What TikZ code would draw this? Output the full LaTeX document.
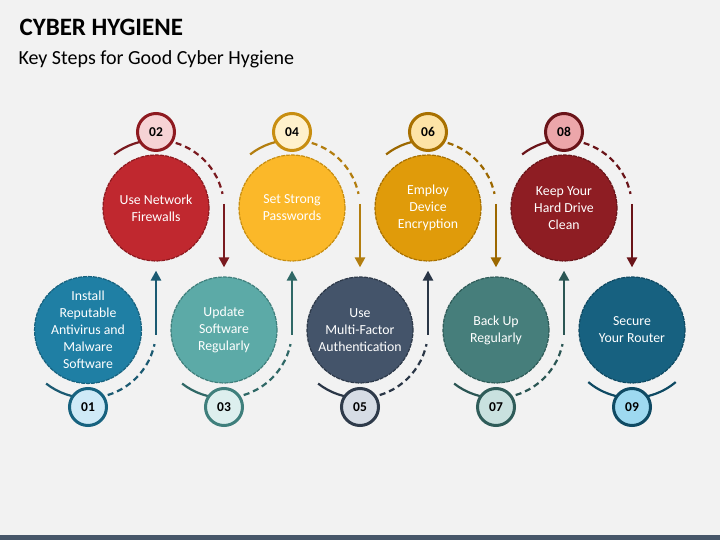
\documentclass[tikz,border=0pt]{standalone}
\usepackage{fontspec}
\setmainfont{Carlito}
\usetikzlibrary{arrows.meta}
\definecolor{bg}{HTML}{F2F2F2}
\definecolor{bar}{HTML}{475669}
\definecolor{fa}{HTML}{1F7FA4}\definecolor{da}{HTML}{17627F}\definecolor{aa}{HTML}{1B5A72}\definecolor{na}{HTML}{CFEAF7}
\definecolor{fb}{HTML}{C0282F}\definecolor{db}{HTML}{8E1A20}\definecolor{ab}{HTML}{7A1A1F}\definecolor{nb}{HTML}{F6D3D5}
\definecolor{fc}{HTML}{5CAAA7}\definecolor{dc}{HTML}{3F7F7C}\definecolor{ac}{HTML}{2F6866}\definecolor{nc}{HTML}{DDEFEE}
\definecolor{fd}{HTML}{FBB829}\definecolor{dd}{HTML}{C88E10}\definecolor{ad}{HTML}{B37E0F}\definecolor{nd}{HTML}{FFF1CC}
\definecolor{fe}{HTML}{44546A}\definecolor{de}{HTML}{2E3A4A}\definecolor{ae}{HTML}{2A3646}\definecolor{ne}{HTML}{D6DCE5}
\definecolor{ff}{HTML}{E09B0A}\definecolor{df}{HTML}{A87000}\definecolor{af}{HTML}{9C6800}\definecolor{nf}{HTML}{FDE3A6}
\definecolor{fg}{HTML}{467E7B}\definecolor{dg}{HTML}{2F5C59}\definecolor{ag}{HTML}{2B5654}\definecolor{ng}{HTML}{C9E1DF}
\definecolor{fh}{HTML}{8E1D23}\definecolor{dh}{HTML}{6A1419}\definecolor{ah}{HTML}{6A1419}\definecolor{nh}{HTML}{ECA6AA}
\definecolor{fi}{HTML}{176180}\definecolor{di}{HTML}{0F4A63}\definecolor{ai}{HTML}{0F4A63}\definecolor{ni}{HTML}{9ED9F0}
\begin{document}
\begin{tikzpicture}[x=1pt,y=1pt,
  main/.style={circle, minimum size=106pt, inner sep=0pt, align=center, text=white,
    font=\fontsize{13.8}{17}\selectfont, draw, line width=1.2pt, dash pattern=on 4pt off 1pt},
  num/.style={circle, minimum size=37pt, inner sep=0pt, line width=3pt, draw,
    font=\bfseries\fontsize{13.5}{15}\selectfont, text=black},
  solidarc/.style={line width=2.2pt},
  dasharc/.style={line width=2.2pt, dash pattern=on 6pt off 4pt},
  arrowline/.style={line width=2.5pt, -{Triangle[length=10pt,width=10pt]}, shorten >=9pt}
]
\fill[bg] (0,0) rectangle (720,540);
\fill[bar] (0,0) rectangle (720,5);
\useasboundingbox (0,0) rectangle (720,540);

\node[anchor=base west, font=\bfseries\fontsize{25}{30}\selectfont] (title) at (16,504) {CYBER HYGIENE};
\node[anchor=base west, font=\fontsize{20}{24}\selectfont] (subtitle) at (15,475) {Key Steps for Good Cyber Hygiene};

% centres
\coordinate (p1) at (88,210);
\coordinate (p2) at (156,332);
\coordinate (p3) at (224,210);
\coordinate (p4) at (292,332);
\coordinate (p5) at (360,210);
\coordinate (p6) at (428,332);
\coordinate (p7) at (496,210);
\coordinate (p8) at (564,332);
\coordinate (p9) at (632,210);

% arcs (bottom ones)
\foreach \p/\c in {p1/aa,p3/ac,p5/ae,p7/ag}{
  \draw[solidarc, \c] ([shift={(232:68)}]\p) arc[start angle=232, end angle=270, radius=68];
  \draw[dasharc, \c] ([shift={(270:68)}]\p) arc[start angle=270, end angle=348, radius=68];
}
% arcs (top ones)
\foreach \p/\c in {p2/ab,p4/ad,p6/af,p8/ah}{
  \draw[solidarc, \c] ([shift={(128:68)}]\p) arc[start angle=128, end angle=90, radius=68];
  \draw[dasharc, \c] ([shift={(90:68)}]\p) arc[start angle=90, end angle=12, radius=68];
}
\draw[solidarc, ai] ([shift={(230:68)}]p9) arc[start angle=230, end angle=310, radius=68];

% main circles
\node[main, fill=fa, draw=da] (c1) at (p1) {Install\\Reputable\\Antivirus and\\Malware\\Software};
\node[main, fill=fb, draw=db] (c2) at (p2) {Use Network\\Firewalls};
\node[main, fill=fc, draw=dc] (c3) at (p3) {Update\\Software\\Regularly};
\node[main, fill=fd, draw=dd] (c4) at (p4) {Set Strong\\Passwords};
\node[main, fill=fe, draw=de] (c5) at (p5) {Use\\Multi-Factor\\Authentication};
\node[main, fill=ff, draw=df] (c6) at (p6) {Employ\\Device\\Encryption};
\node[main, fill=fg, draw=dg] (c7) at (p7) {Back Up\\Regularly};
\node[main, fill=fh, draw=dh] (c8) at (p8) {Keep Your\\Hard Drive\\Clean};
\node[main, fill=fi, draw=di] (c9) at (p9) {Secure\\Your Router};

% number circles
\node[num, fill=na, draw=da] (n1) at (88,133) {01};
\node[num, fill=nb, draw=db] (n2) at (156,408) {02};
\node[num, fill=nc, draw=dc] (n3) at (224,133) {03};
\node[num, fill=nd, draw=dd] (n4) at (292,408) {04};
\node[num, fill=ne, draw=de] (n5) at (360,133) {05};
\node[num, fill=nf, draw=df] (n6) at (428,408) {06};
\node[num, fill=ng, draw=dg] (n7) at (496,133) {07};
\node[num, fill=nh, draw=dh] (n8) at (564,408) {08};
\node[num, fill=ni, draw=di] (n9) at (632,133) {09};

% arrow start points
\coordinate (s1) at (156,205);
\coordinate (s2) at (224,336);
\coordinate (s3) at (292,205);
\coordinate (s4) at (360,336);
\coordinate (s5) at (428,205);
\coordinate (s6) at (496,336);
\coordinate (s7) at (564,205);
\coordinate (s8) at (632,336);

\draw[arrowline, aa] (s1) -- (c2.south);
\draw[arrowline, ab] (s2) -- (c3.north);
\draw[arrowline, ac] (s3) -- (c4.south);
\draw[arrowline, ad] (s4) -- (c5.north);
\draw[arrowline, ae] (s5) -- (c6.south);
\draw[arrowline, af] (s6) -- (c7.north);
\draw[arrowline, ag] (s7) -- (c8.south);
\draw[arrowline, ah] (s8) -- (c9.north);
\end{tikzpicture}
\end{document}
